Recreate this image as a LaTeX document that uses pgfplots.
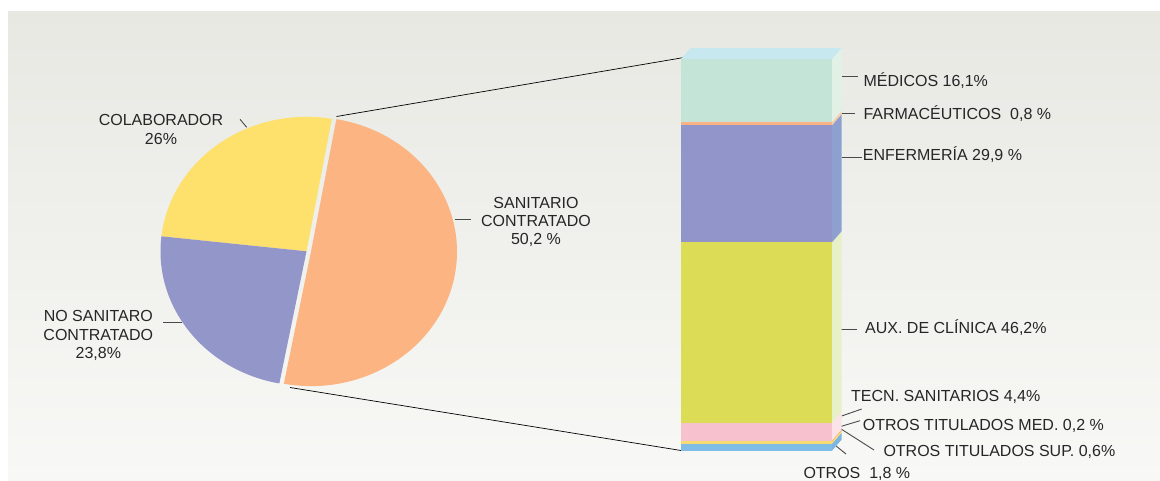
\documentclass[border=0pt]{standalone}
\usepackage{pgfplots}
\pgfplotsset{compat=1.18}
\usepackage{fontspec}
\setmainfont{Liberation Sans}

\definecolor{bgTop}{HTML}{E8E8E3}
\definecolor{bgBot}{HTML}{F8F8F6}
\definecolor{txt}{HTML}{262626}
\definecolor{lead}{HTML}{4A4A4A}
% pie
\definecolor{cColab}{HTML}{FEE06D}
\definecolor{cNoSan}{HTML}{9396C9}
\definecolor{cSan}{HTML}{FBB482}
% bar, front faces
\definecolor{cMed}{HTML}{C4E4D7}
\definecolor{cFarma}{HTML}{F9B386}
\definecolor{cEnf}{HTML}{9195C9}
\definecolor{cAux}{HTML}{DCDC57}
\definecolor{cTecn}{HTML}{F7C1CE}
\definecolor{cTMed}{HTML}{F5A04A}
\definecolor{cTSup}{HTML}{F8DC72}
\definecolor{cOtros}{HTML}{7FBDE7}
% bar, side and top faces
\definecolor{sTop}{HTML}{C7E8EE}
\definecolor{sMed}{HTML}{E2F1E5}
\definecolor{sFarma}{HTML}{FBCBA6}
\definecolor{sEnf}{HTML}{8EA0D0}
\definecolor{sAux}{HTML}{E8F0C8}
\definecolor{sTecn}{HTML}{FCE3EA}
\definecolor{sOtros}{HTML}{7DB5E3}

% pie values (%)
\def\vColab{26}
\def\vNoSan{23.8}
\def\vSan{50.2}
\pgfmathsetmacro{\aA}{80}
\pgfmathsetmacro{\aB}{\aA+3.6*\vColab}
\pgfmathsetmacro{\aC}{\aB+3.6*\vNoSan}
\pgfmathsetmacro{\aD}{\aC+3.6*\vSan}

\begin{document}
\begin{tikzpicture}[
  lbl/.style={text=txt, font=\fontsize{16}{19}\selectfont, inner sep=0pt},
  ld/.style={draw=lead, line width=0.9pt}]

% canvas in pixel units of the reference
\begin{axis}[
  at={(0pt,0pt)}, anchor=south west,
  width=1160pt, height=481pt, scale only axis,
  xmin=0, xmax=1160, ymin=0, ymax=481, y dir=reverse,
  hide axis, clip=false]
  \fill[top color=bgTop, bottom color=bgBot] (8,12) rectangle (1160,481);

  % pie
  \fill[cColab] (306.5,251.3) -- ++(\aA:146pt and 134.5pt)
    arc[start angle=\aA, end angle=\aB, x radius=146pt, y radius=134.5pt] -- cycle;
  \fill[cNoSan] (306.5,251.3) -- ++(\aB:146pt and 134.5pt)
    arc[start angle=\aB, end angle=\aC, x radius=146pt, y radius=134.5pt] -- cycle;
  \fill[cSan] (311,251.6) -- ++(\aC:146pt and 134.5pt)
    arc[start angle=\aC, end angle=\aD, x radius=146pt, y radius=134.5pt] -- cycle;

  % connector lines
  \draw[black, line width=0.7pt] (336.5,116.5) -- (684,57.5);
  \draw[black, line width=0.7pt] (290,387.5) -- (681,450.5);

  % pie labels
  \node[lbl, anchor=base] at (161,125.3) {COLABORADOR};
  \node[lbl, anchor=base] at (161,145) {26\%};
  \draw[ld] (240,119.3) -- (246.7,127.3);

  \node[lbl, anchor=base] at (536,208.3) {SANITARIO};
  \node[lbl, anchor=base] at (536,226.7) {CONTRATADO};
  \node[lbl, anchor=base] at (536,245) {50,2 \%};
  \draw[ld] (455,219.3) -- (471,219.3);

  \node[lbl, anchor=base] at (98.3,321.7) {NO SANITARO};
  \node[lbl, anchor=base] at (98.3,340) {CONTRATADO};
  \node[lbl, anchor=base] at (98.3,358.3) {23,8\%};
  \draw[ld] (163.3,322.7) -- (181.7,322.7);

  % bar labels
  \node[lbl, anchor=base west] at (863.3,86.7) {MÉDICOS 16,1\%};
  \draw[ld] (841.5,76) -- (858.3,76);
  \node[lbl, anchor=base west] at (863.3,119.3) {FARMACÉUTICOS\ \ 0,8 \%};
  \draw[ld] (841.5,113.3) -- (855,113.3);
  \node[lbl, anchor=base west] at (862.7,160.7) {ENFERMERÍA 29,9 \%};
  \draw[ld] (841.5,157.3) -- (862,157.3);
  \node[lbl, anchor=base west] at (865,333.3) {AUX. DE CLÍNICA 46,2\%};
  \draw[ld] (840.7,329.3) -- (857.3,329.3);
  \node[lbl, anchor=base west] at (851,401.7) {TECN. SANITARIOS 4,4\%};
  \draw[ld] (841.7,416) -- (861.7,409);
  \node[lbl, anchor=base west] at (862.7,430) {OTROS TITULADOS MED. 0,2 \%};
  \draw[ld] (840,426.7) -- (860,420.7);
  \node[lbl, anchor=base west] at (883.3,456) {OTROS TITULADOS SUP. 0,6\%};
  \draw[ld] (840,428.3) -- (874,450);
  \node[lbl, anchor=base west] at (803.3,478.3) {OTROS\ \ 1,8 \%};
  \draw[ld] (835.7,445.7) -- (846,454);
\end{axis}

% stacked bar, front faces
\begin{axis}[
  at={(681pt,30.3pt)}, anchor=south west,
  width=151pt, height=391.7pt, scale only axis,
  xmin=0, xmax=1, ymin=0, ymax=100,
  hide axis, clip=false,
  ybar stacked, bar width=151pt]
  \addplot[fill=cOtros, draw=none] coordinates {(0.5,1.8)};
  \addplot[fill=cTSup, draw=none] coordinates {(0.5,0.6)};
  \addplot[fill=cTMed, draw=none] coordinates {(0.5,0.2)};
  \addplot[fill=cTecn, draw=none] coordinates {(0.5,4.4)};
  \addplot[fill=cAux, draw=none] coordinates {(0.5,46.2)};
  \addplot[fill=cEnf, draw=none] coordinates {(0.5,29.9)};
  \addplot[fill=cFarma, draw=none] coordinates {(0.5,0.8)};
  \addplot[fill=cMed, draw=none] coordinates {(0.5,16.1)};
\end{axis}

% stacked bar, side and top faces (same geometry)
\begin{axis}[
  at={(681pt,30.3pt)}, anchor=south west,
  width=151pt, height=391.7pt, scale only axis,
  xmin=0, xmax=1, ymin=0, ymax=100,
  hide axis, clip=false]
  \addplot[fill=sOtros, draw=none] coordinates {(1,0)(1.063,2.8)(1.063,4.6)(1,1.8)} -- cycle;
  \addplot[fill=cTSup, draw=none] coordinates {(1,1.8)(1.063,4.6)(1.063,5.2)(1,2.4)} -- cycle;
  \addplot[fill=cTMed, draw=none] coordinates {(1,2.4)(1.063,5.2)(1.063,5.4)(1,2.6)} -- cycle;
  \addplot[fill=sTecn, draw=none] coordinates {(1,2.6)(1.063,5.4)(1.063,9.8)(1,7.0)} -- cycle;
  \addplot[fill=sAux, draw=none] coordinates {(1,7.0)(1.063,9.8)(1.063,56.0)(1,53.2)} -- cycle;
  \addplot[fill=sEnf, draw=none] coordinates {(1,53.2)(1.063,56.0)(1.063,85.9)(1,83.1)} -- cycle;
  \addplot[fill=sFarma, draw=none] coordinates {(1,83.1)(1.063,85.9)(1.063,86.7)(1,83.9)} -- cycle;
  \addplot[fill=sMed, draw=none] coordinates {(1,83.9)(1.063,86.7)(1.063,102.8)(1,100)} -- cycle;
  \addplot[fill=sTop, draw=none] coordinates {(0,100)(0.063,102.8)(1.063,102.8)(1,100)} -- cycle;
\end{axis}

\pgfresetboundingbox
\useasboundingbox (0pt,0pt) rectangle (1160pt,481pt);
\end{tikzpicture}
\end{document}
